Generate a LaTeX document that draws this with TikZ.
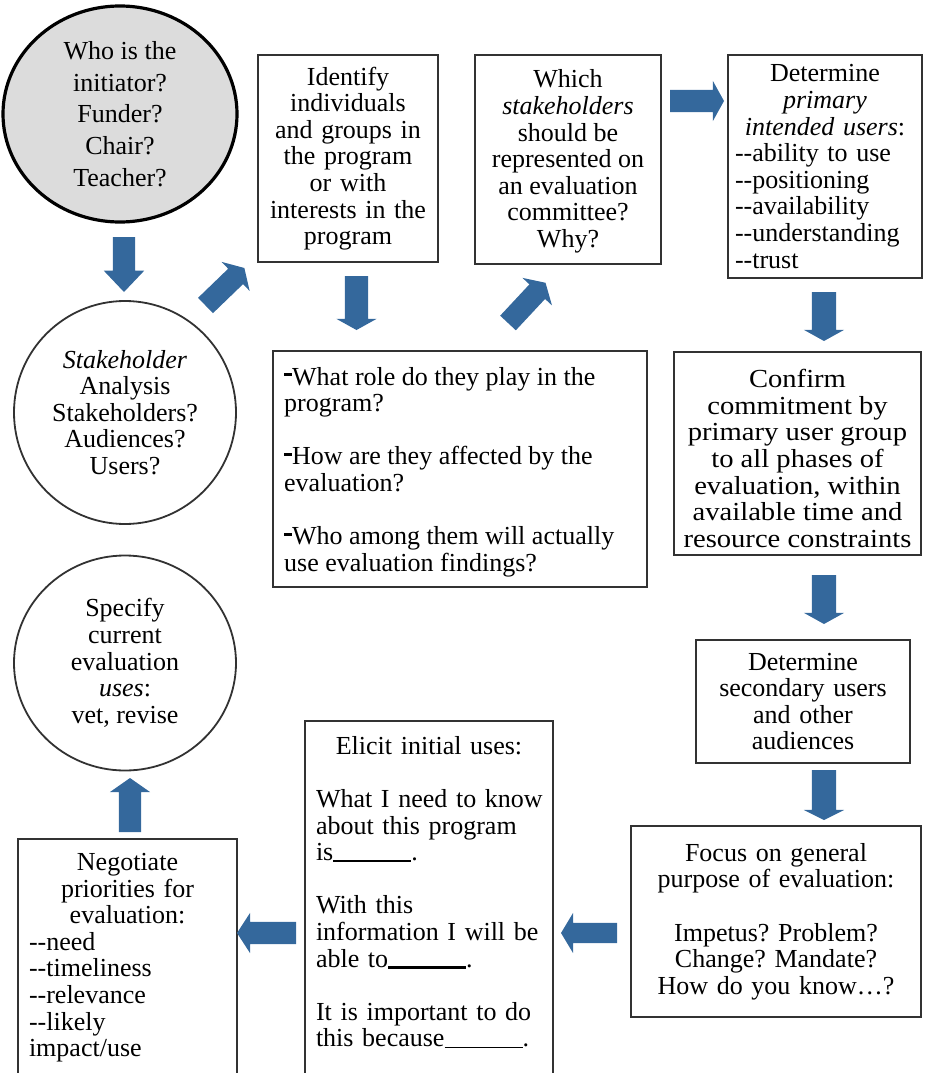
\documentclass[tikz,border=0pt]{standalone}
\usepackage{fontspec}
\setmainfont{Liberation Serif}
\newfontfamily\widefont{Liberation Serif}[FakeStretch=1.1]
\usetikzlibrary{shapes.geometric,shapes.arrows,calc}
\definecolor{arrowblue}{RGB}{52,104,156}
\definecolor{edgegray}{RGB}{50,50,50}
\definecolor{fillgray}{RGB}{220,220,220}
\setlength\parindent{0pt}
\frenchspacing
% two plain hyphens (no en-dash ligature)
\newcommand\dbl{-\kern0pt-}
% raised heavy bullet dash
\newcommand\bul{\rule[9pt]{8pt}{3pt}}
% fill-in blanks
\newcommand\blank{\rule[-1pt]{78pt}{1.2pt}}
\newcommand\blankb{\rule[-1.5pt]{78pt}{2.6pt}}
% invisible strut giving a block arrow its shaft width
\newcommand\shaft[1]{\rule{0pt}{#1}}
\begin{document}
\begin{tikzpicture}[x=1pt,y=-1pt,
  txt/.style={font=\fontsize{26}{26.6}\selectfont, inner sep=0pt},
  box/.style={txt, rectangle, draw=edgegray, line width=2pt},
  disc/.style={txt, ellipse, draw=edgegray, line width=1.8pt, align=center},
  % block arrow: head extend, tip angle
  barrow/.style 2 args={single arrow, fill=arrowblue, draw=none, inner sep=0pt,
    outer sep=0pt, anchor=tail, single arrow head extend=#1,
    single arrow tip angle=#2}]

\useasboundingbox (0,0) rectangle (924,1073);
\clip (0,0) rectangle (924,1073);

% ---- circles on the left
\node[disc, draw=black, line width=3.2pt, fill=fillgray, minimum width=234pt,
  minimum height=216pt, font=\fontsize{26}{31.6}\selectfont] (who) at (120,114)
  {Who is the\\initiator?\\Funder?\\Chair?\\Teacher?};
\node[disc, minimum width=222pt, minimum height=223pt] (sa) at (125,412.5)
  {\textit{Stakeholder}\\Analysis\\Stakeholders?\\Audiences?\\Users?};
\node[disc, minimum width=222pt, minimum height=215pt] (su) at (125,663)
  {Specify\\current\\evaluation\\\textit{uses}:\\vet, revise};

% ---- top row
\node[box, minimum width=180pt, minimum height=207pt, text width=176pt, align=center]
  (idb) at (348,158.5)
  {Identify\\individuals\\and groups in\\the program\\or with\\interests in the\\program};
\node[box, minimum width=186pt, minimum height=209pt] (whb) at (568,159.5) {};
\node[txt, align=center] (wht) at ($(whb.center)+(0,2)$)
  {Which\\\textit{stakeholders}\\should be\\represented on\\an evaluation\\committee?\\Why?};
\node[box, minimum width=194pt, minimum height=223pt, text width=180pt]
  (prb) at (825,166.5)
  {{\centering Determine\\\textit{primary}\\\textit{intended users}:\par}\raggedright
   \dbl{}ability to use\\\dbl{}positioning\\\dbl{}availability\\\dbl{}understanding\\\dbl{}trust\par};

% ---- questions box
\node[box, minimum width=374pt, minimum height=236pt] (dqb) at (460,469) {};
\node[txt, align=left, anchor=west] (dqt) at ($(dqb.west)+(12,3)$)
  {\bul What role do they play in the\\program?\\[26.6pt]%
   \bul How are they affected by the\\evaluation?\\[26.6pt]%
   \bul Who among them will actually\\use evaluation findings?};

% ---- right column
\node[box, minimum width=247pt, minimum height=203pt] (cfb) at (797.5,453.5) {};
\node[txt, align=center, font={\fontsize{26}{26.6}\widefont}] (cft) at ($(cfb.center)+(0,5)$)
  {Confirm\\commitment by\\primary user group\\to all phases of\\evaluation, within\\available time and\\resource constraints};
\node[box, minimum width=214pt, minimum height=123pt, text width=210pt, align=center]
  (scb) at (803,701.5)
  {Determine\\secondary users\\and other\\audiences};
\node[box, minimum width=290pt, minimum height=191pt, text width=286pt, align=center]
  (fcb) at (776,921.5)
  {Focus on general\\purpose of evaluation:\\[26.6pt]Impetus? Problem?\\Change? Mandate?\\How do you know…?};

% ---- bottom row (boxes run past the lower edge)
\node[box, anchor=north west, minimum width=248pt, minimum height=420pt] (elb) at (304,720) {};
\node[txt, anchor=north, text width=226pt] (elt) at ($(elb.north)+(0,16)$)
  {{\centering Elicit initial uses:\par}\vspace{26.6pt}\raggedright
   \mbox{What I need to know}\\about this program\\is\blank.\\[26.6pt]%
   With this\\\mbox{information I will be}\\able to\blankb.\\[26.6pt]%
   It is important to do\\this because\blank.\par};
\node[box, anchor=north west, minimum width=219pt, minimum height=300pt] (ngb) at (17,838) {};
\node[txt, anchor=north, text width=197pt] (ngt) at ($(ngb.north)+(0,15)$)
  {{\centering Negotiate\\priorities for\\evaluation:\par}\raggedright
   \dbl{}need\\\dbl{}timeliness\\\dbl{}relevance\\\dbl{}likely\\impact/use\par};

% ---- block arrows
\node[barrow={9pt}{87},    rotate=-90, minimum height=55pt] (a1)  at (124,237)     {\shaft{22pt}};
\node[barrow={9.5pt}{118}, rotate=44,  minimum height=54pt] (a2)  at (205.5,305.5) {\shaft{21pt}};
\node[barrow={8.5pt}{122}, rotate=-90, minimum height=54pt] (a3)  at (356.5,276)   {\shaft{23pt}};
\node[barrow={9.5pt}{118}, rotate=47,  minimum height=55pt] (a4)  at (508,323)     {\shaft{21pt}};
\node[barrow={9pt}{122},   rotate=0,   minimum height=54pt] (a5)  at (670,101)     {\shaft{22pt}};
\node[barrow={8pt}{122},   rotate=-90, minimum height=49pt] (a6)  at (824,292)     {\shaft{24pt}};
\node[barrow={8pt}{122},   rotate=-90, minimum height=49pt] (a7)  at (824,575)     {\shaft{24pt}};
\node[barrow={8pt}{127},   rotate=-90, minimum height=50pt] (a8)  at (824,770)     {\shaft{24pt}};
\node[barrow={10pt}{118},  rotate=180, minimum height=56pt] (a9)  at (617,933)     {\shaft{20pt}};
\node[barrow={9pt}{114},   rotate=180, minimum height=59pt] (a10) at (296,933)     {\shaft{22pt}};
\node[barrow={9pt}{110},   rotate=90,  minimum height=54pt] (a11) at (130,832)     {\shaft{22pt}};
\end{tikzpicture}
\end{document}
